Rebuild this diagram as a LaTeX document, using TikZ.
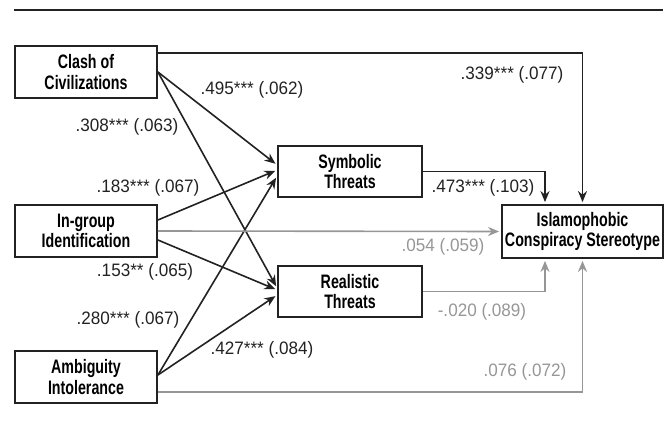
\documentclass[tikz,border=0pt]{standalone}
\usepackage{fontspec}
\usepackage{tikz}
\usetikzlibrary{arrows.meta}
\setmainfont[FakeStretch=0.95]{Liberation Sans}
\newfontfamily\boxfont[FakeStretch=0.73]{Liberation Sans}
\definecolor{lightline}{RGB}{150,150,150}
\definecolor{darkline}{RGB}{34,34,34}

\begin{document}
\begin{tikzpicture}[x=1pt, y=-1pt,
    var/.style = {shape=rectangle, draw=darkline, line width=1.8pt, align=center, inner sep=0pt,
                  font=\boxfont\bfseries\fontsize{19.5}{20.5}\selectfont},
    path/.style = {draw=darkline, line width=1.6pt, -{Stealth[length=11pt, width=9pt]}, shorten >=2pt},
    nspath/.style = {path, draw=lightline},
    coef/.style = {font=\fontsize{18}{20}\selectfont, text=darkline, inner sep=0pt},
    nscoef/.style = {coef, text=lightline}]
    \useasboundingbox (0,0) rectangle (667,433);
    \draw[darkline, line width=2pt] (14,10) -- (663,10);

    % variables
    \node[var, minimum width=142pt, minimum height=52pt] (clash) at (86,72) {Clash of\\Civilizations};
    \node[var, minimum width=142pt, minimum height=52pt] (ingroup) at (86,231) {In-group\\Identification};
    \node[var, minimum width=142pt, minimum height=52pt] (ambig) at (86,377) {Ambiguity\\Intolerance};
    \node[var, minimum width=144pt, minimum height=51pt] (symb) at (350,171.5) {Symbolic\\Threats};
    \node[var, minimum width=144pt, minimum height=51pt] (real) at (350,291.5) {Realistic\\Threats};
    \node[var, minimum width=161pt, minimum height=53pt] (islam) at (582.5,231.5) {Islamophobic\\Conspiracy Stereotype};

    % paths to the threats
    \draw[path] (clash.east) -- ([yshift=6.5pt]symb.west);
    \draw[path] (clash.east) -- ([yshift=3.5pt]real.west);
    \draw[path] ([yshift=11pt]ingroup.east) -- ([yshift=1.5pt]symb.west);
    \draw[path] ([yshift=-9pt]ingroup.east) -- ([yshift=1.5pt]real.west);
    \draw[path] ([yshift=2pt]ambig.east) -- ([yshift=-4.5pt]symb.west);
    \draw[path] ([yshift=2pt]ambig.east) -- ([yshift=-3.5pt]real.west);

    % paths to the stereotype
    \draw[path] ([yshift=19pt]clash.east) -| (islam.north);
    \draw[path] (symb.east) -| ([xshift=-37.5pt]islam.north);
    \draw[nspath] (ingroup.east) -- (islam.west);
    \draw[nspath] (real.east) -| ([xshift=-37.5pt]islam.south);
    \draw[nspath] ([yshift=-15pt]ambig.east) -| (islam.south);

    % coefficients
    \node[coef] (c1) at (252,90) {.495*** (.062)};
    \node[coef] (c2) at (127,127) {.308*** (.063)};
    \node[coef] (c3) at (148,188) {.183*** (.067)};
    \node[coef] (c4) at (512,75) {.339*** (.077)};
    \node[coef] (c5) at (483,188) {.473*** (.103)};
    \node[coef] (c6) at (145,272) {.153** (.065)};
    \node[coef] (c7) at (128,320) {.280*** (.067)};
    \node[coef] (c8) at (262,350) {.427*** (.084)};
    \node[nscoef] (c9) at (443,247) {.054 (.059)};
    \node[nscoef] (c10) at (482,312) {-.020 (.089)};
    \node[nscoef] (c11) at (525,372) {.076 (.072)};
\end{tikzpicture}
\end{document}
